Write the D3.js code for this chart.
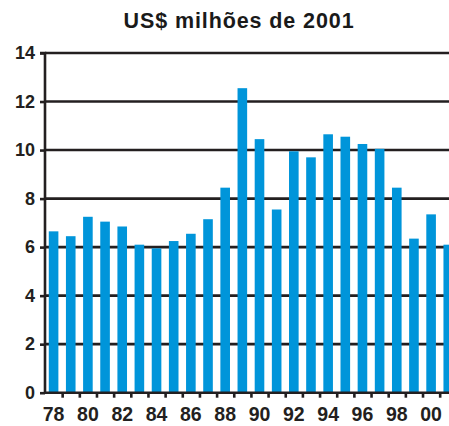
<!DOCTYPE html>
<html>
<head>
<meta charset="utf-8">
<script src="https://cdn.jsdelivr.net/npm/d3@7"></script>
<style>
  body { margin: 0; background: #fff; }
  svg { display: block; font-family: "Liberation Sans", Arial, sans-serif; }
</style>
</head>
<body>
<div id="chart"></div>
<script>
var years = d3.range(1978, 2002);
var values = [6.65, 6.45, 7.25, 7.05, 6.85, 6.1, 5.95, 6.25, 6.55, 7.15, 8.45, 12.55,
              10.45, 7.55, 9.95, 9.7, 10.65, 10.55, 10.25, 10.05, 8.45, 6.35, 7.35, 6.1];
var yTicks = [0, 2, 4, 6, 8, 10, 12, 14];
var title = "US$ milhões de 2001";

var svgWidth = 449;
var svgHeight = 426;
var margin = { top: 53, left: 45, bottom: 33.3 };
var plotHeight = svgHeight - margin.top - margin.bottom;
var step = 17.16;

var svg = d3.select('#chart')
    .append('svg')
    .attr('width', svgWidth)
    .attr('height', svgHeight);

var x = d3.scaleBand()
    .domain(years)
    .range([margin.left, margin.left + step * years.length])
    .paddingInner(0.44)
    .paddingOuter(0.22);

var y = d3.scaleLinear()
    .domain([0, 14])
    .range([margin.top + plotHeight, margin.top]);

svg.append('text')
    .attr('x', 239)
    .attr('y', 27.5)
    .attr('text-anchor', 'middle')
    .attr('font-size', '21.5px')
    .attr('font-weight', 'bold')
    .attr('letter-spacing', '0.9px')
    .attr('fill', '#1a1a1a')
    .text(title);

// gridlines
svg.append('g')
    .selectAll('line')
    .data(yTicks.filter(d => d > 0))
    .enter()
    .append('line')
    .attr('x1', margin.left)
    .attr('x2', svgWidth)
    .attr('y1', d => y(d))
    .attr('y2', d => y(d))
    .attr('stroke', '#231f20')
    .attr('stroke-width', 2.6);

// bars
svg.append('g')
    .selectAll('rect')
    .data(values)
    .enter()
    .append('rect')
    .attr('x', (d, i) => x(years[i]))
    .attr('width', x.bandwidth())
    .attr('y', d => y(d))
    .attr('height', d => y(0) - y(d))
    .attr('fill', '#0095da');

// y axis
var yAxis = d3.axisLeft(y)
    .tickValues(yTicks)
    .tickSize(5)
    .tickPadding(5);

var yG = svg.append('g')
    .attr('transform', `translate(${margin.left},0)`)
    .call(yAxis);
yG.select('.domain').attr('stroke', '#231f20').attr('stroke-width', 2.6)
    .attr('d', `M-5,${y(14)}H0V${y(0)}`);
yG.selectAll('.tick line').attr('stroke', '#231f20').attr('stroke-width', 2.6);
yG.selectAll('.tick text')
    .attr('font-size', '18px')
    .attr('font-weight', 'bold')
    .attr('font-family', '"Liberation Sans", Arial, sans-serif')
    .attr('fill', '#231f20');

// x axis: ticks at band boundaries
var xb = d3.scaleLinear()
    .domain([0, years.length])
    .range([margin.left, margin.left + step * years.length]);

var xTickG = svg.append('g')
    .attr('transform', `translate(0,${y(0)})`)
    .call(d3.axisBottom(xb).tickValues(d3.range(1, years.length)).tickSize(5).tickFormat(''));
xTickG.select('.domain').attr('stroke', '#231f20').attr('stroke-width', 2.6)
    .attr('d', `M${margin.left},0H${svgWidth}`);
xTickG.selectAll('.tick line').attr('stroke', '#231f20').attr('stroke-width', 2.6);

var xLabG = svg.append('g')
    .attr('transform', `translate(0,${y(0)})`)
    .call(d3.axisBottom(x).tickSize(0).tickPadding(14)
        .tickFormat(d => d % 2 === 0 ? String(d % 100).padStart(2, '0') : ''));
xLabG.select('.domain').remove();
xLabG.selectAll('.tick text')
    .attr('font-size', '19.5px')
    .attr('font-weight', 'bold')
    .attr('font-family', '"Liberation Sans", Arial, sans-serif')
    .attr('fill', '#231f20');
</script>
</body>
</html>
